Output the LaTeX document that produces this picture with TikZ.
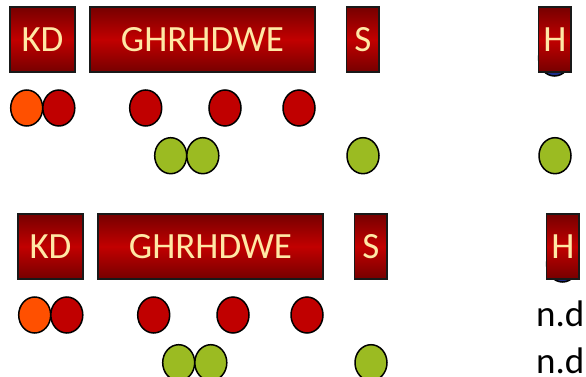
\documentclass[tikz,border=0pt]{standalone}
\usepackage{fontspec}
\setmainfont{Carlito}
\usetikzlibrary{shapes.geometric}
\definecolor{boxdark}{RGB}{118,0,0}
\definecolor{boxmid}{RGB}{194,0,0}
\definecolor{boxtext}{RGB}{255,232,165}
\definecolor{dotred}{RGB}{192,0,0}
\definecolor{dotorange}{RGB}{255,80,0}
\definecolor{dotgreen}{RGB}{155,187,34}
\definecolor{dotnavy}{RGB}{30,45,140}
\tikzset{
  label box/.style={draw=black!90, line width=1.5pt, top color=boxdark,
    bottom color=boxdark, middle color=boxmid, text=boxtext,
    font=\fontsize{37}{40}\selectfont, inner sep=0pt,
    minimum height=65pt},
  dot/.style={ellipse, draw=black, line width=1.5pt, inner sep=0pt,
    minimum width=32pt, minimum height=36pt},
  reddot/.style={dot, fill=dotred},
  orangedot/.style={dot, fill=dotorange},
  greendot/.style={dot, fill=dotgreen},
  navydot/.style={dot, fill=dotnavy},
  nd/.style={anchor=base west, inner sep=0pt, font=\fontsize{37}{40}\selectfont}
}
\begin{document}
\begin{tikzpicture}[x=1pt,y=-1pt]
\useasboundingbox (0,0) rectangle (586,377);
\clip (0,0) rectangle (586,377);

% upper panel
\node[navydot] (t-hn) at (554.5,58) {};
\node[label box, minimum width=65pt] (t-kd) at (42.5,39.5) {KD};
\node[label box, minimum width=225pt] (t-gh) at (202.5,39.5) {GHRHDWE};
\node[label box, minimum width=32.5pt] (t-s) at (362.8,39.5) {S};
\node[label box, minimum width=32.5pt] (t-h) at (554.8,39.5) {H};
\node[orangedot] (t-r1) at (26.7,108) {};
\node[reddot] (t-r2) at (58.8,108) {};
\node[reddot] (t-r3) at (145.7,108) {};
\node[reddot] (t-r4) at (225,108) {};
\node[reddot] (t-r5) at (299,108) {};
\node[greendot] (t-g1) at (170.7,155.7) {};
\node[greendot] (t-g2) at (202.8,155.7) {};
\node[greendot] (t-g3) at (363,155.7) {};
\node[greendot] (t-g4) at (555,155.7) {};

% lower panel
\begin{scope}[shift={(8,207)}]
\node[navydot] (b-hn) at (554.5,57) {};
\node[label box, minimum width=65pt] (b-kd) at (42.5,39.5) {KD};
\node[label box, minimum width=225pt] (b-gh) at (202.5,39.5) {GHRHDWE};
\node[label box, minimum width=32.5pt] (b-s) at (362.8,39.5) {S};
\node[label box, minimum width=32.5pt] (b-h) at (554.8,39.5) {H};
\node[orangedot] (b-r1) at (26.7,108) {};
\node[reddot] (b-r2) at (58.8,108) {};
\node[reddot] (b-r3) at (145.7,108) {};
\node[reddot] (b-r4) at (225,108) {};
\node[reddot] (b-r5) at (299,108) {};
\node[greendot] (b-g1) at (170.7,155.7) {};
\node[greendot] (b-g2) at (202.8,155.7) {};
\node[greendot] (b-g3) at (363,155.7) {};
\end{scope}
\node[nd] (nd1) at (536,326.7) {n.d.};
\node[nd] (nd2) at (536,373) {n.d.};
\end{tikzpicture}
\end{document}
